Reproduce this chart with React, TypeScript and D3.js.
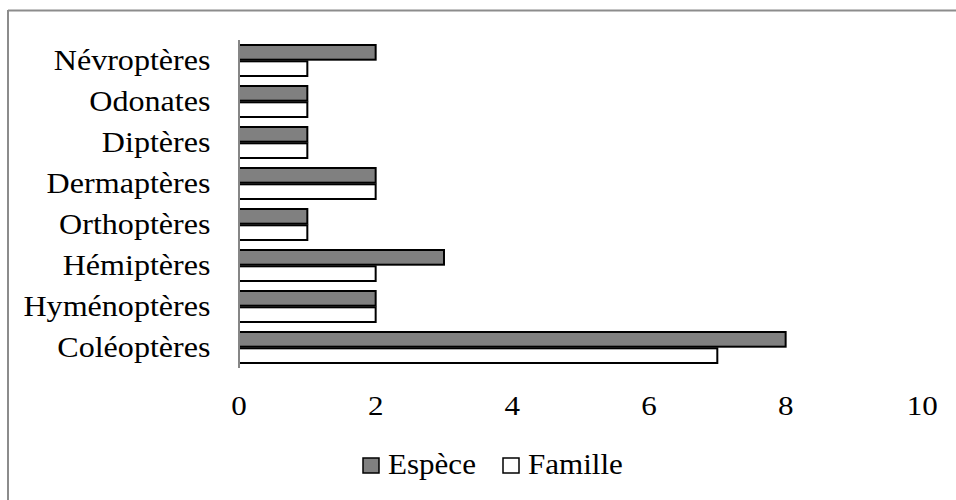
import React from "react";
import * as d3 from "d3";

// Insect orders, listed top to bottom as drawn
const categories = [
  "Névroptères",
  "Odonates",
  "Diptères",
  "Dermaptères",
  "Orthoptères",
  "Hémiptères",
  "Hyménoptères",
  "Coléoptères",
];
const especeValues = [2, 1, 1, 2, 1, 3, 2, 8];
const familleValues = [1, 1, 1, 2, 1, 2, 2, 7];
const seriesNames = ["Espèce", "Famille"];
const seriesFills = ["#808080", "#ffffff"];
const xTicks = [0, 2, 4, 6, 8, 10];

const W = 956;
const H = 500;
const FONT = "'Liberation Serif', 'Times New Roman', serif";

export default function App() {
  const x = d3.scaleLinear().domain([0, 10]).range([239, 922.3]);
  const y = d3.scaleBand<string>().domain(categories).range([40, 368]).padding(0);
  const sub = d3
    .scaleBand<string>()
    .domain(seriesNames)
    .range([5, 36])
    .paddingInner(0.1);

  const series = [especeValues, familleValues];

  const stretchedText = (
    key: string,
    tx: number,
    ty: number,
    anchor: "start" | "middle" | "end",
    label: string,
    size: number,
    sx: number
  ) => (
    <text
      key={key}
      transform={`translate(${tx},${ty}) scale(${sx},1)`}
      textAnchor={anchor}
      fontFamily={FONT}
      fontSize={size}
      fill="#000"
    >
      {label}
    </text>
  );

  return (
    <svg
      width={W}
      height={H}
      style={{ position: "absolute", left: 0, top: 0, display: "block" }}
    >
      <rect x={0} y={0} width={W} height={H} fill="#fff" />
      {/* chart frame */}
      <line x1={8} y1={10.5} x2={W} y2={10.5} stroke="#8c8c8c" strokeWidth={2} />
      <line x1={8} y1={10} x2={8} y2={H} stroke="#8c8c8c" strokeWidth={2} />

      {/* bars */}
      {categories.map((c, i) =>
        seriesNames.map((s, j) => (
          <rect
            key={`${c}-${s}`}
            x={x(0)}
            y={(y(c) ?? 0) + (sub(s) ?? 0)}
            width={x(series[j][i]) - x(0)}
            height={sub.bandwidth()}
            fill={seriesFills[j]}
            stroke="#000"
            strokeWidth={2}
          />
        ))
      )}

      {/* vertical category axis */}
      <line x1={239} y1={40} x2={239} y2={368} stroke="#868686" strokeWidth={2} />

      {/* category labels */}
      {categories.map((c) =>
        stretchedText(`lab-${c}`, 210.5, (y(c) ?? 0) + y.bandwidth() / 2 + 9, "end", c, 30, 1.07)
      )}

      {/* value tick labels */}
      {xTicks.map((t) => stretchedText(`tick-${t}`, x(t), 415, "middle", String(t), 27.5, 1.13))}

      {/* legend */}
      {seriesNames.map((s, j) => {
        const lx = [363, 503][j];
        return (
          <g key={`leg-${s}`}>
            <rect
              x={lx}
              y={458}
              width={16}
              height={15}
              fill={seriesFills[j]}
              stroke="#000"
              strokeWidth={1.5}
            />
            {stretchedText(`legt-${s}`, lx + 25, 474, "start", s, 28.5, 1.09)}
          </g>
        );
      })}
    </svg>
  );
}
